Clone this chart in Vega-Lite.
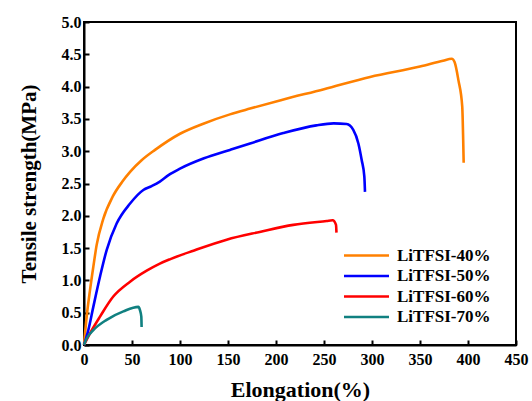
{
  "$schema": "https://vega.github.io/schema/vega-lite/v6.json",
  "autosize": "none",
  "width": 432,
  "height": 323,
  "padding": {"left": 84, "top": 22, "right": 16, "bottom": 56},
  "background": "white",
  "config": {
    "font": "Liberation Serif",
    "view": {"stroke": "black", "strokeWidth": 2}
  },
  "data": {
    "values": [
      {"series": "LiTFSI-40%", "x": 0, "y": 0},
      {"series": "LiTFSI-40%", "x": 2.8, "y": 0.44},
      {"series": "LiTFSI-40%", "x": 6.25, "y": 0.85},
      {"series": "LiTFSI-40%", "x": 9.7, "y": 1.21},
      {"series": "LiTFSI-40%", "x": 13.2, "y": 1.55},
      {"series": "LiTFSI-40%", "x": 20, "y": 1.95},
      {"series": "LiTFSI-40%", "x": 30, "y": 2.3},
      {"series": "LiTFSI-40%", "x": 40, "y": 2.53},
      {"series": "LiTFSI-40%", "x": 48, "y": 2.68},
      {"series": "LiTFSI-40%", "x": 60, "y": 2.86},
      {"series": "LiTFSI-40%", "x": 74, "y": 3.02},
      {"series": "LiTFSI-40%", "x": 100, "y": 3.27},
      {"series": "LiTFSI-40%", "x": 125, "y": 3.43},
      {"series": "LiTFSI-40%", "x": 152, "y": 3.57},
      {"series": "LiTFSI-40%", "x": 173, "y": 3.66},
      {"series": "LiTFSI-40%", "x": 205, "y": 3.79},
      {"series": "LiTFSI-40%", "x": 250, "y": 3.96},
      {"series": "LiTFSI-40%", "x": 298, "y": 4.15},
      {"series": "LiTFSI-40%", "x": 350, "y": 4.31},
      {"series": "LiTFSI-40%", "x": 374, "y": 4.4},
      {"series": "LiTFSI-40%", "x": 383, "y": 4.43},
      {"series": "LiTFSI-40%", "x": 386, "y": 4.38},
      {"series": "LiTFSI-40%", "x": 390, "y": 4.1},
      {"series": "LiTFSI-40%", "x": 394, "y": 3.69},
      {"series": "LiTFSI-40%", "x": 395, "y": 3.17},
      {"series": "LiTFSI-40%", "x": 395.5, "y": 2.82},
      {"series": "LiTFSI-50%", "x": 0, "y": 0},
      {"series": "LiTFSI-50%", "x": 4.5, "y": 0.23},
      {"series": "LiTFSI-50%", "x": 9.7, "y": 0.59},
      {"series": "LiTFSI-50%", "x": 16.7, "y": 1.06},
      {"series": "LiTFSI-50%", "x": 23.6, "y": 1.47},
      {"series": "LiTFSI-50%", "x": 34, "y": 1.88},
      {"series": "LiTFSI-50%", "x": 48, "y": 2.19},
      {"series": "LiTFSI-50%", "x": 61.8, "y": 2.4},
      {"series": "LiTFSI-50%", "x": 70.5, "y": 2.46},
      {"series": "LiTFSI-50%", "x": 79, "y": 2.53},
      {"series": "LiTFSI-50%", "x": 88, "y": 2.63},
      {"series": "LiTFSI-50%", "x": 100, "y": 2.73},
      {"series": "LiTFSI-50%", "x": 125, "y": 2.89},
      {"series": "LiTFSI-50%", "x": 152, "y": 3.02},
      {"series": "LiTFSI-50%", "x": 173, "y": 3.12},
      {"series": "LiTFSI-50%", "x": 207.6, "y": 3.28},
      {"series": "LiTFSI-50%", "x": 242, "y": 3.4},
      {"series": "LiTFSI-50%", "x": 260, "y": 3.43},
      {"series": "LiTFSI-50%", "x": 273.6, "y": 3.42},
      {"series": "LiTFSI-50%", "x": 280.5, "y": 3.33},
      {"series": "LiTFSI-50%", "x": 285.8, "y": 3.12},
      {"series": "LiTFSI-50%", "x": 289.3, "y": 2.86},
      {"series": "LiTFSI-50%", "x": 292, "y": 2.61},
      {"series": "LiTFSI-50%", "x": 292.7, "y": 2.37},
      {"series": "LiTFSI-60%", "x": 0, "y": 0},
      {"series": "LiTFSI-60%", "x": 6.25, "y": 0.18},
      {"series": "LiTFSI-60%", "x": 16.7, "y": 0.44},
      {"series": "LiTFSI-60%", "x": 30.5, "y": 0.75},
      {"series": "LiTFSI-60%", "x": 48, "y": 0.98},
      {"series": "LiTFSI-60%", "x": 65.3, "y": 1.15},
      {"series": "LiTFSI-60%", "x": 79, "y": 1.26},
      {"series": "LiTFSI-60%", "x": 90, "y": 1.33},
      {"series": "LiTFSI-60%", "x": 114, "y": 1.46},
      {"series": "LiTFSI-60%", "x": 148.6, "y": 1.63},
      {"series": "LiTFSI-60%", "x": 183, "y": 1.75},
      {"series": "LiTFSI-60%", "x": 218, "y": 1.86},
      {"series": "LiTFSI-60%", "x": 252.8, "y": 1.92},
      {"series": "LiTFSI-60%", "x": 259, "y": 1.93},
      {"series": "LiTFSI-60%", "x": 262.5, "y": 1.86},
      {"series": "LiTFSI-60%", "x": 263, "y": 1.74},
      {"series": "LiTFSI-70%", "x": 0, "y": 0},
      {"series": "LiTFSI-70%", "x": 2.8, "y": 0.1},
      {"series": "LiTFSI-70%", "x": 9.7, "y": 0.23},
      {"series": "LiTFSI-70%", "x": 23.6, "y": 0.39},
      {"series": "LiTFSI-70%", "x": 41, "y": 0.52},
      {"series": "LiTFSI-70%", "x": 56.6, "y": 0.59},
      {"series": "LiTFSI-70%", "x": 58.3, "y": 0.54},
      {"series": "LiTFSI-70%", "x": 59.7, "y": 0.44},
      {"series": "LiTFSI-70%", "x": 60, "y": 0.28}
    ]
  },
  "mark": {"type": "line", "strokeWidth": 2.6, "interpolate": "monotone"},
  "encoding": {
    "x": {
      "field": "x",
      "type": "quantitative",
      "scale": {"domain": [0, 450], "nice": false},
      "axis": {
        "title": "Elongation(%)",
        "values": [0, 50, 100, 150, 200, 250, 300, 350, 400, 450],
        "grid": false,
        "domainColor": "black",
        "domainWidth": 2,
        "tickColor": "black",
        "tickWidth": 2,
        "tickSize": -5,
        "labelPadding": 11,
        "labelFont": "Liberation Serif",
        "labelFontWeight": "bold",
        "labelFontSize": 16,
        "labelColor": "black",
        "labelFlush": false,
        "titleFont": "Liberation Serif",
        "titleFontWeight": "bold",
        "titleFontSize": 22,
        "titleColor": "black",
        "titlePadding": 12
      }
    },
    "y": {
      "field": "y",
      "type": "quantitative",
      "scale": {"domain": [0, 5], "nice": false},
      "axis": {
        "title": "Tensile strength(MPa)",
        "values": [0, 0.5, 1, 1.5, 2, 2.5, 3, 3.5, 4, 4.5, 5],
        "format": ".1f",
        "grid": false,
        "domainColor": "black",
        "domainWidth": 2,
        "tickColor": "black",
        "tickWidth": 2,
        "tickSize": -5,
        "labelPadding": 8,
        "labelFont": "Liberation Serif",
        "labelFontWeight": "bold",
        "labelFontSize": 16,
        "labelColor": "black",
        "labelFlush": false,
        "titleFont": "Liberation Serif",
        "titleFontWeight": "bold",
        "titleFontSize": 21,
        "titleColor": "black",
        "titlePadding": 22
      }
    },
    "color": {
      "field": "series",
      "type": "nominal",
      "scale": {
        "domain": ["LiTFSI-40%", "LiTFSI-50%", "LiTFSI-60%", "LiTFSI-70%"],
        "range": ["#FF8000", "#0000FF", "#FF0000", "#108080"]
      },
      "legend": {
        "title": null,
        "orient": "none",
        "legendX": 274,
        "legendY": 225,
        "padding": 0,
        "symbolType": "M-5,0H5",
        "symbolSize": 81,
        "symbolStrokeWidth": 2.5,
        "labelOffset": 22,
        "rowPadding": 2.5,
        "labelFont": "Liberation Serif",
        "labelFontWeight": "bold",
        "labelFontSize": 17,
        "labelColor": "black",
        "labelLimit": 200
      }
    }
  }
}
